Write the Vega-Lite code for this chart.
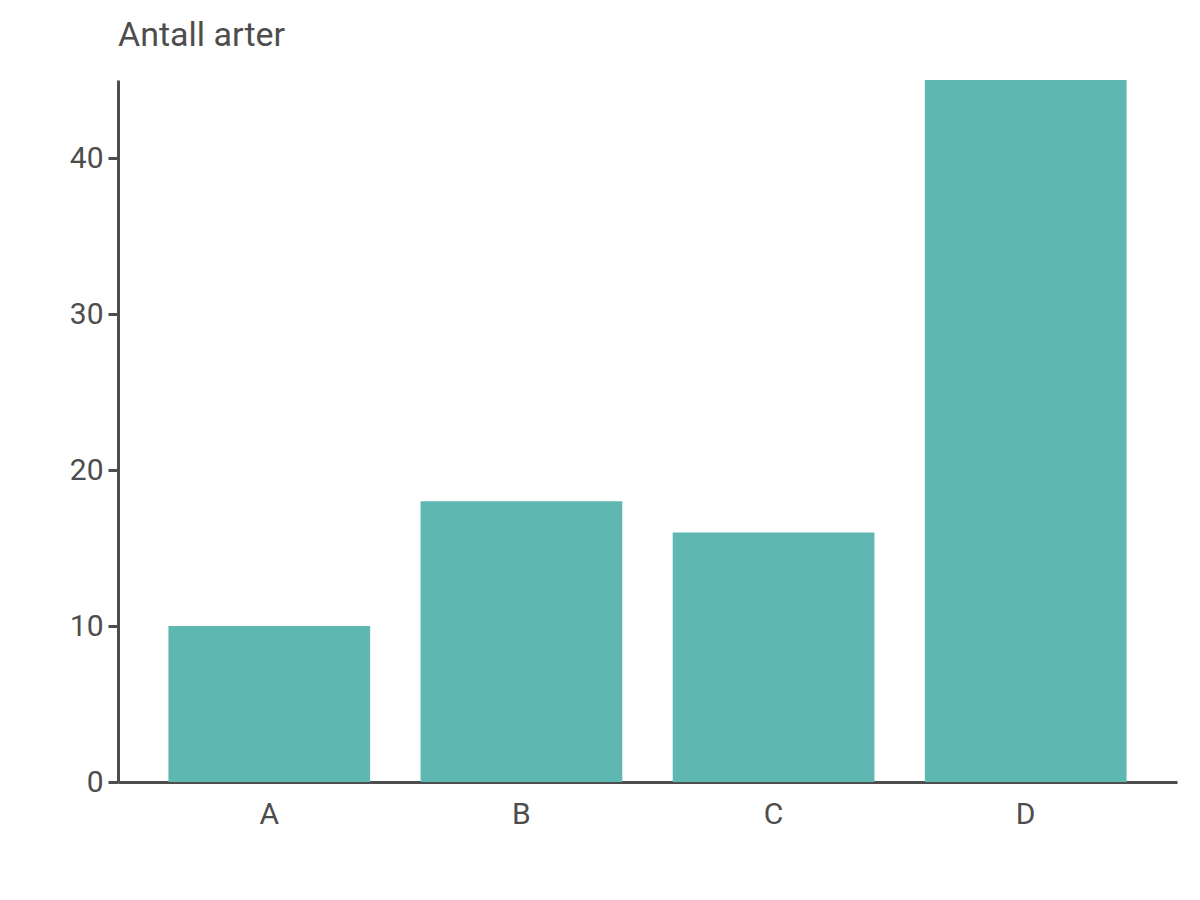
{
  "$schema": "https://vega.github.io/schema/vega-lite/v6.json",
  "width": 1059,
  "height": 702,
  "autosize": {"type": "none"},
  "padding": {"left": 118, "top": 80, "right": 23, "bottom": 118},
  "background": "white",
  "title": {
    "text": "Antall arter",
    "anchor": "start",
    "frame": "group",
    "orient": "top",
    "baseline": "alphabetic",
    "offset": 0,
    "font": "Roboto",
    "fontSize": 34,
    "fontWeight": "normal",
    "color": "#4d4d4d"
  },
  "config": {
    "view": {"stroke": null},
    "font": "Roboto"
  },
  "data": {
    "values": [
      {"kategori": "A", "antall": 10},
      {"kategori": "B", "antall": 18},
      {"kategori": "C", "antall": 16},
      {"kategori": "D", "antall": 45}
    ]
  },
  "mark": {"type": "bar", "color": "#5fb7b1"},
  "encoding": {
    "x": {
      "field": "kategori",
      "type": "nominal",
      "scale": {"paddingInner": 0.2, "paddingOuter": 0.2},
      "axis": {
        "title": null,
        "labelAngle": 0,
        "ticks": false,
        "labelPadding": 17,
        "labelFontSize": 30,
        "labelColor": "#4d4d4d",
        "labelFont": "Roboto",
        "domainColor": "#4d4d4d",
        "domainWidth": 3,
        "grid": false
      }
    },
    "y": {
      "field": "antall",
      "type": "quantitative",
      "scale": {"domain": [0, 45], "nice": false},
      "axis": {
        "title": null,
        "values": [0, 10, 20, 30, 40],
        "tickSize": 10,
        "tickWidth": 3,
        "tickColor": "#4d4d4d",
        "labelPadding": 5,
        "labelFontSize": 30,
        "labelColor": "#4d4d4d",
        "labelFont": "Roboto",
        "domainColor": "#4d4d4d",
        "domainWidth": 3,
        "grid": false
      }
    }
  }
}
